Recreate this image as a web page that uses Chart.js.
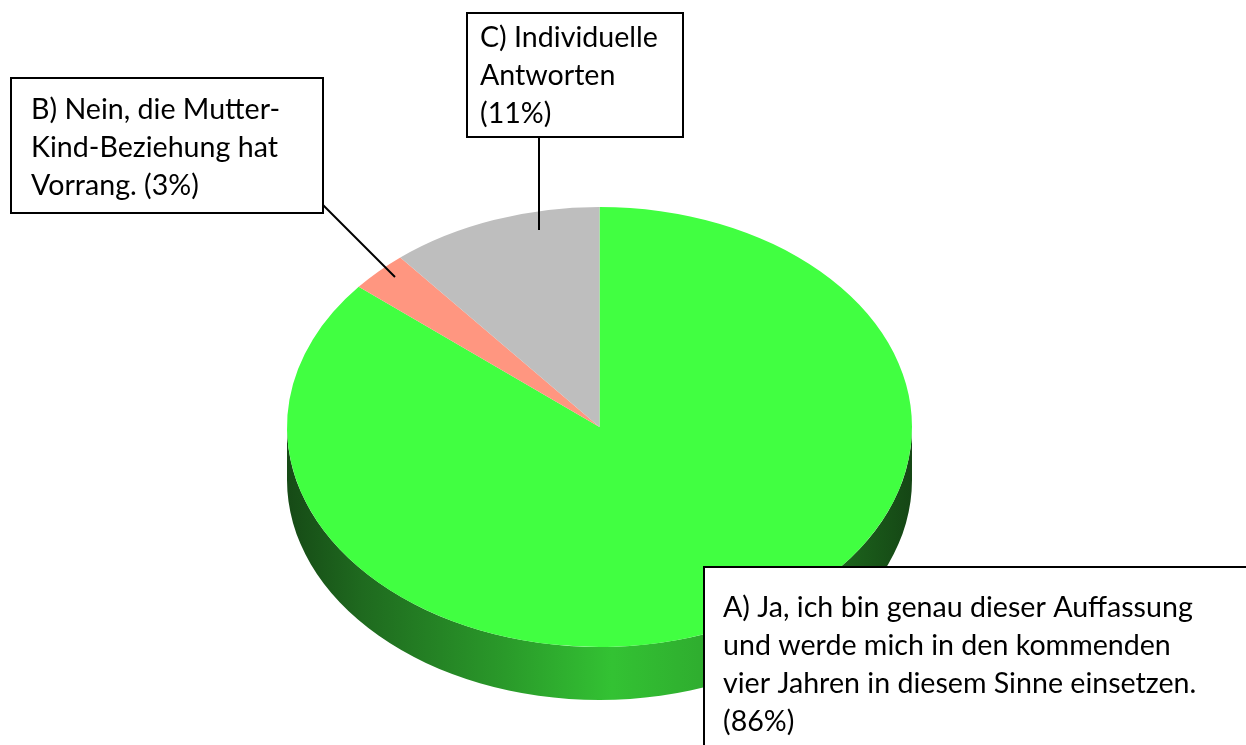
<!DOCTYPE html>
<html>
<head>
<meta charset="utf-8">
<script src="https://cdn.jsdelivr.net/npm/chart.js@4"></script>
<style>
  html, body { margin: 0; padding: 0; background: #fff; }
  canvas { display: block; }
</style>
</head>
<body>
<canvas id="pieChart" width="1246" height="745"></canvas>
<script>
// ==============================
// DATA
// ==============================
const categories = ["A", "B", "C"];
const values = [86, 3, 11];
const sliceColors = ["#41ff41", "#ff9680", "#bebebe"];
const labelLines = [
  ["A) Ja, ich bin genau dieser Auffassung", "und werde mich in den kommenden", "vier Jahren in diesem Sinne einsetzen.", "(86%)"],
  ["B) Nein, die Mutter-", "Kind-Beziehung hat", "Vorrang. (3%)"],
  ["C) Individuelle", "Antworten", "(11%)"]
];

// ==============================
// 3D LOOK: squash + side wall
// ==============================
const TILT = 0.704;   // vertical squash of the top face
const DEPTH = 53;     // side wall height in screen px

function frontParts(s, e) {
  const parts = [];
  for (const off of [-2 * Math.PI, 0, 2 * Math.PI]) {
    const a = Math.max(s, off), b = Math.min(e, off + Math.PI);
    if (b > a) parts.push([a, b]);
  }
  return parts;
}

const pie3d = {
  id: "pie3d",
  beforeDatasetsDraw(chart) {
    const ctx = chart.ctx;
    const arcs = chart.getDatasetMeta(0).data;
    if (!arcs.length) return;
    const cx = arcs[0].x, cy = arcs[0].y, r = arcs[0].outerRadius;

    ctx.save();
    ctx.translate(cx, cy);
    ctx.scale(1, TILT);
    ctx.translate(-cx, -cy);

    const d = DEPTH / TILT;
    const grad = ctx.createLinearGradient(cx - r, 0, cx + r, 0);
    grad.addColorStop(0, "#164a16");
    grad.addColorStop(0.12, "#1f6a1f");
    grad.addColorStop(0.35, "#2a9a2a");
    grad.addColorStop(0.52, "#33c233");
    grad.addColorStop(0.66, "#2fae2f");
    grad.addColorStop(0.85, "#1f6e1f");
    grad.addColorStop(1, "#154615");

    arcs.forEach((arc, i) => {
      frontParts(arc.startAngle, arc.endAngle).forEach(([a, b]) => {
        ctx.beginPath();
        ctx.arc(cx, cy, r, a, b);
        ctx.arc(cx, cy + d, r, b, a, true);
        ctx.closePath();
        ctx.fillStyle = i === 0 ? grad : sliceColors[i];
        ctx.fill();
      });
    });
  },
  afterDatasetsDraw(chart) {
    chart.ctx.restore();
  }
};

// ==============================
// LABEL BOXES
// ==============================
const labelBoxes = {
  id: "labelBoxes",
  afterDraw(chart) {
    const ctx = chart.ctx;
    ctx.save();
    ctx.font = "100px Lato";
    const fontSize = 100 * 470 / ctx.measureText(labelLines[0][0]).width;
    ctx.font = fontSize + "px Lato";

    const boxes = [
      { x: 704, y: 567, w: 600, h: 300, tx: 723, ty: 608, line: null },
      { x: 11, y: 78, w: 312, h: 135, tx: 31, ty: 110, line: [323, 205, 395, 277] },
      { x: 467, y: 13, w: 216, h: 124, tx: 480, ty: 38, line: [539, 137, 539, 230] }
    ];

    ctx.lineWidth = 2;
    ctx.strokeStyle = "#000";
    boxes.forEach((b, i) => {
      if (b.line) {
        ctx.beginPath();
        ctx.moveTo(b.line[0], b.line[1]);
        ctx.lineTo(b.line[2], b.line[3]);
        ctx.stroke();
      }
      ctx.fillStyle = "#fff";
      ctx.fillRect(b.x, b.y, b.w, b.h);
      ctx.strokeRect(b.x, b.y, b.w, b.h);
      ctx.fillStyle = "#000";
      ctx.textBaseline = "middle";
      labelLines[i].forEach((t, j) => ctx.fillText(t, b.tx, b.ty + j * 38));
    });
    ctx.restore();
  }
};

// ==============================
// CHART
// ==============================
new Chart(document.getElementById("pieChart"), {
  type: "pie",
  data: {
    labels: categories,
    datasets: [{
      data: values,
      backgroundColor: sliceColors,
      borderWidth: 0,
      clip: false
    }]
  },
  options: {
    responsive: false,
    animation: false,
    events: [],
    layout: { padding: { left: 287, right: 334, top: 114.5, bottom: 5.5 } },
    plugins: {
      legend: { display: false },
      tooltip: { enabled: false }
    }
  },
  plugins: [pie3d, labelBoxes]
});
</script>
</body>
</html>
